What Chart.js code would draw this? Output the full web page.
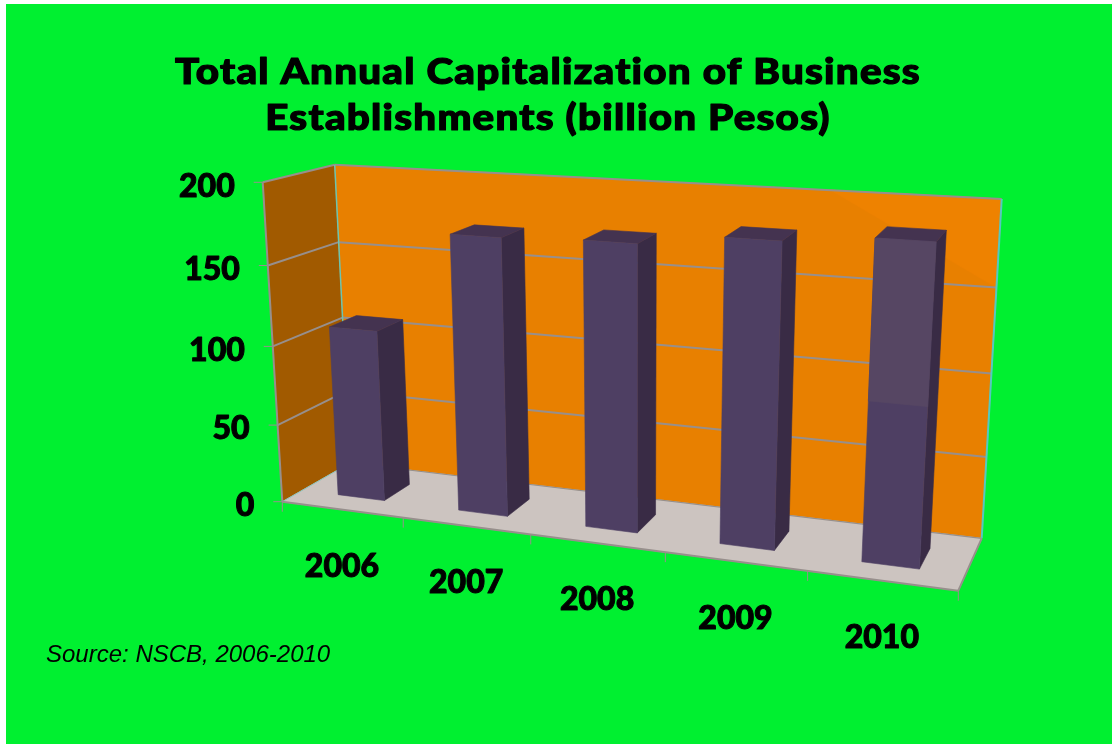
<!DOCTYPE html>
<html>
<head>
<meta charset="utf-8">
<title>Total Annual Capitalization</title>
<script src="https://cdn.jsdelivr.net/npm/chart.js@4"></script>
<style>
  html, body { margin: 0; padding: 0; background: #fff; }
  canvas { display: block; }
</style>
</head>
<body>
<canvas id="grafico" width="1112" height="744"></canvas>
<script>
const years = ['2006', '2007', '2008', '2009', '2010'];
const capitalization = [109, 172, 174, 181, 186];
const titleLines = ['Total Annual Capitalization of Business', 'Establishments (billion Pesos)'];
const sourceNote = 'Source: NSCB, 2006-2010';

// esquinas de la caja 3D en pantalla: abajo-izq, abajo-der, arriba-der, arriba-izq
const FRONT = [[282.3, 501.7], [958.3, 590.7], [980, 227], [262.7, 182.3]];
const BACK = [[350, 463], [981.7, 538.3], [1001.7, 199], [334.7, 164.7]];
const BAR_FRONT = 0.3;
const BAR_BACK = 0.7;

const LABEL_FONT = '900 32px Lato, sans-serif';
const TITLE_FONT = '900 36px Lato, sans-serif';

function homografia(q) {
  const [[x0, y0], [x1, y1], [x2, y2], [x3, y3]] = q;
  const dx1 = x1 - x2, dx2 = x3 - x2, sx = x0 - x1 + x2 - x3;
  const dy1 = y1 - y2, dy2 = y3 - y2, sy = y0 - y1 + y2 - y3;
  const den = dx1 * dy2 - dx2 * dy1;
  const g = (sx * dy2 - dx2 * sy) / den;
  const h = (dx1 * sy - sx * dy1) / den;
  const a = x1 - x0 + g * x1, b = x3 - x0 + h * x3;
  const d = y1 - y0 + g * y1, e = y3 - y0 + h * y3;
  return (u, v) => {
    const k = g * u + h * v + 1;
    return [(a * u + b * v + x0) / k, (d * u + e * v + y0) / k];
  };
}
const hFront = homografia(FRONT);
const hBack = homografia(BACK);

function punto(u, v, w) {
  const f = hFront(u, v), b = hBack(u, v);
  return [f[0] + (b[0] - f[0]) * w, f[1] + (b[1] - f[1]) * w];
}

function poligono(ctx, pts, fill) {
  ctx.beginPath();
  pts.forEach((p, i) => (i ? ctx.lineTo(p[0], p[1]) : ctx.moveTo(p[0], p[1])));
  ctx.closePath();
  ctx.fillStyle = fill;
  ctx.strokeStyle = fill;
  ctx.lineWidth = 0.6;
  ctx.fill();
  ctx.stroke();
}

function linea(ctx, a, b, color, ancho) {
  ctx.strokeStyle = color;
  ctx.lineWidth = ancho;
  ctx.beginPath();
  ctx.moveTo(a[0], a[1]);
  ctx.lineTo(b[0], b[1]);
  ctx.stroke();
}

// Lato no llega al peso de la fuente original: se engrosa con un trazo fino
function textoGrueso(ctx, txt, x, y, grosor) {
  ctx.fillStyle = '#000';
  ctx.strokeStyle = '#000';
  ctx.lineWidth = grosor;
  ctx.lineJoin = 'round';
  ctx.strokeText(txt, x, y);
  ctx.fillText(txt, x, y);
}

const pluginCaja3D = {
  id: 'pluginCaja3D',
  beforeDraw(chart) {
    const { ctx, scales, chartArea } = chart;
    const GRID = '#978f8c';
    const vOf = (val) => (chartArea.bottom - scales.y.getPixelForValue(val)) / chartArea.height;
    ctx.save();
    ctx.fillStyle = '#00f030';
    ctx.fillRect(6, 4, chart.width - 6, chart.height - 4);

    // título ensanchado, la original es más ancha que Lato
    ctx.save();
    ctx.font = TITLE_FONT;
    ctx.textAlign = 'center';
    ctx.textBaseline = 'alphabetic';
    ctx.letterSpacing = '1.1px';
    ctx.translate(548, 0);
    ctx.scale(1.12, 1);
    textoGrueso(ctx, titleLines[0], 0, 84, 1.2);
    textoGrueso(ctx, titleLines[1], 0, 130, 1.2);
    ctx.restore();

    poligono(ctx, [punto(0, 0, 0), punto(0, 0, 1), punto(0, 1, 1), punto(0, 1, 0)], '#a15a00');
    poligono(ctx, [punto(0, 0, 1), punto(1, 0, 1), punto(1, 1, 1), punto(0, 1, 1)], '#e88000');
    poligono(ctx, [punto(0.77, 1, 1), punto(1, 1, 1), punto(1, 0.75, 1)], '#ee8200');
    poligono(ctx, [punto(0, 0, 0), punto(1, 0, 0), punto(1, 0, 1), punto(0, 0, 1)], '#ccc4c0');

    // rejilla y etiquetas del eje Y
    ctx.font = LABEL_FONT;
    scales.y.ticks.forEach((t) => {
      const v = vOf(t.value);
      const a = punto(0, v, 0), b = punto(0, v, 1), c = punto(1, v, 1);
      if (t.value > 0) {
        linea(ctx, a, b, GRID, 2);
        linea(ctx, b, c, GRID, 2);
      }
      linea(ctx, a, [a[0] - 9, a[1]], GRID, 1);
      ctx.textAlign = 'right';
      ctx.textBaseline = 'middle';
      textoGrueso(ctx, String(t.value), a[0] - 28, a[1] + 4, 1);
    });

    linea(ctx, punto(0, 0, 0), punto(0, 1, 0), GRID, 2);
    linea(ctx, punto(0, 0, 1), punto(0, 1, 1), '#6cc4b0', 1.5);
    linea(ctx, punto(1, 0, 1), punto(1, 1, 1), '#55c8c0', 2);
    linea(ctx, punto(0, 0, 0), punto(0, 0, 1), '#8fc4c0', 1);
    linea(ctx, punto(0, 0, 0), punto(1, 0, 0), GRID, 2);
    linea(ctx, punto(1, 0, 0), punto(1, 0, 1), GRID, 2);
    linea(ctx, punto(0, 0, 1), punto(1, 0, 1), GRID, 1.2);

    // marcas y etiquetas del eje X
    const n = years.length;
    for (let i = 0; i <= n; i++) {
      const p = punto(i / n, 0, 0);
      linea(ctx, p, [p[0], p[1] + 10], GRID, 1);
    }
    scales.x.ticks.forEach((t, i) => {
      const u = (scales.x.getPixelForTick(i) - chartArea.left) / chartArea.width;
      const p = punto(u, 0, 0);
      ctx.textAlign = 'center';
      ctx.textBaseline = 'middle';
      textoGrueso(ctx, years[i], p[0], p[1] + 57, 1);
    });

    ctx.font = 'italic 24px "Liberation Sans", sans-serif';
    ctx.fillStyle = '#000';
    ctx.textAlign = 'left';
    ctx.textBaseline = 'middle';
    ctx.fillText(sourceNote, 46, 655);
    ctx.restore();
  },
  // las barras se dibujan proyectadas a partir de los elementos de Chart.js
  beforeDatasetDraw(chart, args) {
    const { ctx, chartArea, scales } = chart;
    const meta = args.meta;
    const toU = (x) => (x - chartArea.left) / chartArea.width;
    const toV = (y) => (chartArea.bottom - y) / chartArea.height;
    ctx.save();
    meta.data.forEach((el, i) => {
      const u0 = toU(el.x - el.width / 2), u1 = toU(el.x + el.width / 2);
      const vT = toV(el.y), vB = toV(el.base);
      const w0 = BAR_FRONT, w1 = BAR_BACK;
      poligono(ctx, [punto(u1, vB, w0), punto(u1, vB, w1), punto(u1, vT, w1), punto(u1, vT, w0)], '#392b45');
      poligono(ctx, [punto(u0, vT, w0), punto(u1, vT, w0), punto(u1, vT, w1), punto(u0, vT, w1)], '#443350');
      poligono(ctx, [punto(u0, vB, w0), punto(u1, vB, w0), punto(u1, vT, w0), punto(u0, vT, w0)], el.options.backgroundColor);
      if (i === years.length - 1) {
        // brillo de la diapositiva sobre la última barra
        const vS = toV(scales.y.getPixelForValue(95));
        poligono(ctx, [punto(u0, vS, w0), punto(u1, vS, w0), punto(u1, vT, w0), punto(u0, vT, w0)], '#564663');
      }
    });
    ctx.restore();
    return false;
  },
};

new Chart(document.getElementById('grafico'), {
  type: 'bar',
  data: {
    labels: years,
    datasets: [{
      label: 'Capitalization',
      data: capitalization,
      backgroundColor: '#4e3f63',
      barPercentage: 0.39,
      categoryPercentage: 1,
    }],
  },
  options: {
    responsive: false,
    animation: false,
    devicePixelRatio: 1,
    scales: {
      x: { display: false },
      y: { display: false, min: 0, max: 200, ticks: { stepSize: 50 } },
    },
    plugins: {
      legend: { display: false },
      tooltip: { enabled: false },
    },
  },
  plugins: [pluginCaja3D],
});
</script>
</body>
</html>
